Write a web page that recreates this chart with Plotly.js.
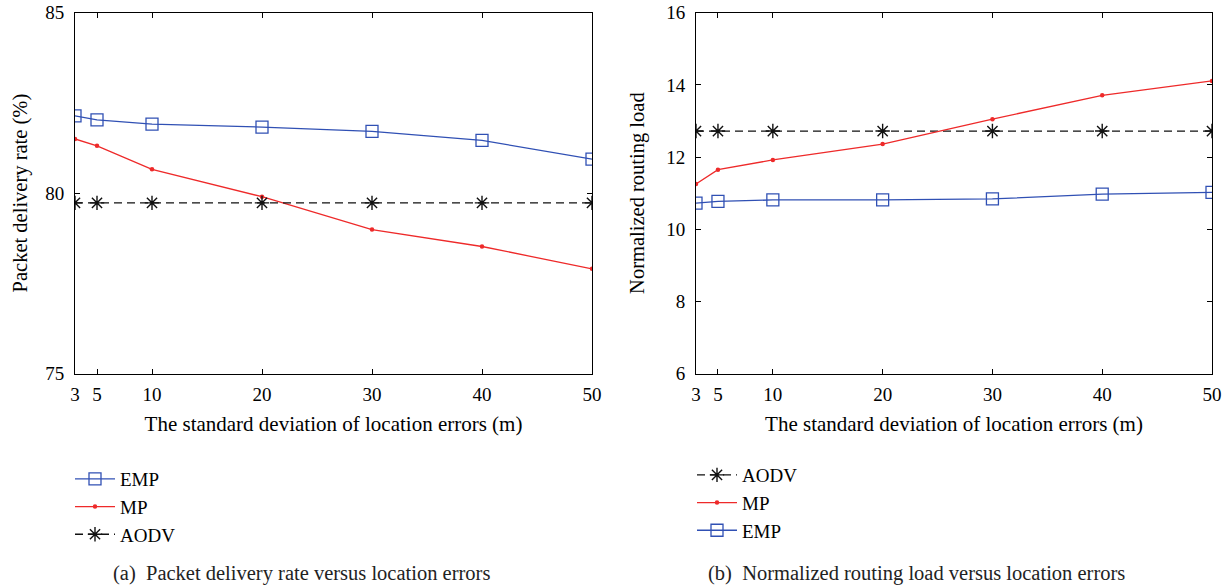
<!DOCTYPE html>
<html>
<head>
<meta charset="utf-8">
<script src="https://cdn.plot.ly/plotly-3.0.1.min.js"></script>
<style>
html,body{margin:0;padding:0;background:#fff;}
#chart{width:1228px;height:588px;}
</style>
</head>
<body>
<div id="chart"></div>
<script>
// ---- data ----
const xVals = [3, 5, 10, 20, 30, 40, 50];
const xTickLabels = ['3', '5', '10', '20', '30', '40', '50'];

// (a) Packet delivery rate (%)
const pdrEMP  = [82.14, 82.03, 81.91, 81.83, 81.71, 81.46, 80.94];
const pdrMP   = [81.50, 81.31, 80.66, 79.90, 78.99, 78.52, 77.90];
const pdrAODV = [79.73, 79.73, 79.73, 79.73, 79.73, 79.73, 79.73];

// (b) Normalized routing load
const nrlAODV = [12.72, 12.72, 12.72, 12.72, 12.72, 12.72, 12.72];
const nrlMP   = [11.25, 11.65, 11.92, 12.36, 13.05, 13.71, 14.11];
const nrlEMP  = [10.72, 10.77, 10.81, 10.81, 10.84, 10.97, 11.02];

const xTitle = 'The standard deviation of location errors (m)';
const captionA = '(a)  Packet delivery rate versus location errors';
const captionB = '(b)  Normalized routing load versus location errors';

// ---- styles ----
const FONT = 'Liberation Serif, Times New Roman, serif';
const BLUE = '#3050b4';
const RED = '#ee2a2a';
const BLACK = '#111111';

const empStyle = {mode: 'lines+markers', line: {color: BLUE, width: 1.3},
  marker: {symbol: 'square-open', size: 12, color: BLUE, line: {width: 1.3, color: BLUE}}};
const mpStyle = {mode: 'lines+markers', line: {color: RED, width: 1.3},
  marker: {symbol: 'circle', size: 4.5, color: RED}};
const aodvStyle = {mode: 'lines+markers', line: {color: BLACK, width: 1.3, dash: '8px,5px'},
  marker: {symbol: 'asterisk-open', size: 12, color: BLACK, line: {width: 1.4, color: BLACK}}};

function tr(name, y, style, xa, ya, leg) {
  return Object.assign({type: 'scatter', name: name, x: xVals, y: y,
    xaxis: xa, yaxis: ya, legend: leg, hoverinfo: 'skip'}, JSON.parse(JSON.stringify(style)));
}

const data = [
  tr('EMP', pdrEMP, empStyle, 'x', 'y', 'legend'),
  tr('MP', pdrMP, mpStyle, 'x', 'y', 'legend'),
  tr('AODV', pdrAODV, aodvStyle, 'x', 'y', 'legend'),
  tr('AODV', nrlAODV, aodvStyle, 'x2', 'y2', 'legend2'),
  tr('MP', nrlMP, mpStyle, 'x2', 'y2', 'legend2'),
  tr('EMP', nrlEMP, empStyle, 'x2', 'y2', 'legend2')
];

const W = 1228, H = 588;
const yDom = [1 - 373.5 / H, 1 - 12.7 / H];

function xAxis(dom, anchor) {
  return {domain: dom, anchor: anchor, range: [3, 50], tickmode: 'array', tickvals: xVals,
    ticktext: xTickLabels, ticks: 'inside', ticklen: 5, tickcolor: '#000', mirror: 'ticks',
    showline: true, linecolor: '#000', linewidth: 1, showgrid: false, zeroline: false,
    tickfont: {family: FONT, size: 19, color: '#000'}, ticklabelstandoff: 4,
    title: {text: xTitle, font: {family: FONT, size: 21, color: '#000'}, standoff: 12}};
}
function yAxis(range, dtick, anchor, title, standoff) {
  return {domain: yDom, anchor: anchor, range: range, dtick: dtick, tick0: range[0],
    ticks: 'inside', ticklen: 5, tickcolor: '#000', mirror: 'ticks',
    showline: true, linecolor: '#000', linewidth: 1, showgrid: false, zeroline: false,
    tickfont: {family: FONT, size: 19, color: '#000'}, ticklabelstandoff: 6,
    title: {text: title, font: {family: FONT, size: 20.5, color: '#000'}, standoff: standoff}};
}

const legFont = {family: FONT, size: 19, color: '#000'};
const layout = {
  width: W, height: H,
  margin: {l: 0, r: 0, t: 0, b: 0},
  paper_bgcolor: '#fff', plot_bgcolor: '#fff',
  showlegend: true,
  font: {family: FONT, color: '#000'},
  xaxis: xAxis([75 / W, 592 / W], 'y'),
  yaxis: yAxis([75, 85], 5, 'x', 'Packet delivery rate (%)', 12),
  xaxis2: xAxis([696 / W, 1212 / W], 'y2'),
  yaxis2: yAxis([6, 16], 2, 'x2', 'Normalized routing load', 16),
  legend: {x: 70 / W, y: 1 - 460 / H, xanchor: 'left', yanchor: 'top', bgcolor: 'rgba(0,0,0,0)',
    borderwidth: 0, font: legFont, tracegroupgap: 0, itemwidth: 40},
  legend2: {x: 692 / W, y: 1 - 456 / H, xanchor: 'left', yanchor: 'top', bgcolor: 'rgba(0,0,0,0)',
    borderwidth: 0, font: legFont, tracegroupgap: 0, itemwidth: 40},
  annotations: [
    {text: captionA, xref: 'paper', yref: 'paper', x: 111 / W, y: 1 - 573 / H, xanchor: 'left',
     yanchor: 'middle', showarrow: false, font: {family: FONT, size: 20.5, color: '#222'}},
    {text: captionB, xref: 'paper', yref: 'paper', x: 706 / W, y: 1 - 573 / H, xanchor: 'left',
     yanchor: 'middle', showarrow: false, font: {family: FONT, size: 20.5, color: '#222'}}
  ]
};

Plotly.newPlot('chart', data, layout, {staticPlot: true, displayModeBar: false});
</script>
</body>
</html>
